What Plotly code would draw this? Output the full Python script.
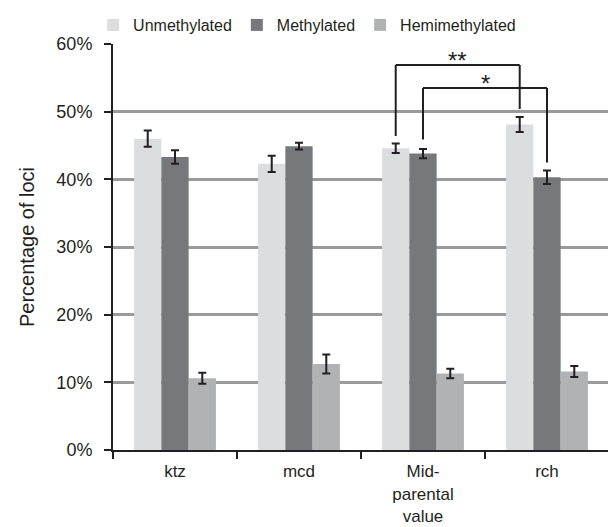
import plotly.graph_objects as go

categories = ["ktz", "mcd", "Mid-<br>parental<br>value", "rch"]
series_names = ["Unmethylated", "Methylated", "Hemimethylated"]
unmethylated = [46.0, 42.3, 44.6, 48.1]
unmethylated_err = [1.2, 1.2, 0.7, 1.1]
methylated = [43.3, 44.9, 43.8, 40.3]
methylated_err = [1.0, 0.5, 0.7, 1.0]
hemimethylated = [10.6, 12.7, 11.3, 11.6]
hemimethylated_err = [0.8, 1.4, 0.7, 0.8]
colors = ["#dcdddf", "#77787b", "#b1b2b4"]
y_ticks = [0, 10, 20, 30, 40, 50, 60]
y_ticktext = ["0%", "10%", "20%", "30%", "40%", "50%", "60%"]

# significance brackets: (x_left, x_right, y_top, y_left_bottom, y_right_bottom, label)
bar_w = (1 - 0.34) / 3
brackets = [
    (2 - bar_w, 3 - bar_w, 56.9, 46.4, 50.4, "**"),
    (2.0, 3.0, 53.5, 45.9, 42.5, "*"),
]

fig = go.Figure()
for name, vals, errs, col in zip(series_names,
                                 [unmethylated, methylated, hemimethylated],
                                 [unmethylated_err, methylated_err, hemimethylated_err],
                                 colors):
    fig.add_trace(go.Bar(
        x=list(range(len(categories))), y=vals, name=name, marker_color=col,
        marker_line_width=0,
        error_y=dict(type="data", array=errs, color="#231f20", thickness=2, width=4),
    ))

for xl, xr, yt, ylb, yrb, lab in brackets:
    fig.add_shape(type="line", x0=xl, x1=xl, y0=ylb, y1=yt, xref="x", yref="y",
                  line=dict(color="#231f20", width=2))
    fig.add_shape(type="line", x0=xl, x1=xr, y0=yt, y1=yt, xref="x", yref="y",
                  line=dict(color="#231f20", width=2))
    fig.add_shape(type="line", x0=xr, x1=xr, y0=yt, y1=yrb, xref="x", yref="y",
                  line=dict(color="#231f20", width=2))
    fig.add_annotation(x=(xl + xr) / 2, y=yt, text=lab, showarrow=False,
                       yanchor="bottom", yshift=-11,
                       font=dict(size=24, color="#231f20"))

fig.update_layout(
    width=608, height=519,
    margin=dict(l=105, r=7, t=36, b=77, autoexpand=False),
    paper_bgcolor="white", plot_bgcolor="white",
    barmode="group", bargap=0.34, bargroupgap=0,
    font=dict(family="Liberation Sans, Arial, sans-serif", size=18, color="#231f20"),
    legend=dict(orientation="h", xref="container", x=0.14, xanchor="left",
                yref="container", y=1.0, yanchor="top",
                font=dict(size=16), itemwidth=30, traceorder="normal"),
    xaxis=dict(
        tickmode="array", tickvals=list(range(len(categories))), ticktext=categories,
        range=[-0.5, 3.5], showline=True, linecolor="#231f20", linewidth=2,
        ticks="", showgrid=False, zeroline=False, tickfont=dict(size=17),
        automargin=False, ticklabelstandoff=5,
        minor=dict(tickvals=[-0.5, 0.5, 1.5, 2.5], ticks="outside",
                   ticklen=7, tickwidth=2, tickcolor="#231f20"),
    ),
    yaxis=dict(
        range=[0, 60], tickmode="array", tickvals=y_ticks, ticktext=y_ticktext,
        showline=True, linecolor="#231f20", linewidth=2,
        ticks="outside", ticklen=7, tickwidth=2, tickcolor="#231f20",
        showgrid=True, gridcolor="#9a9a9a", gridwidth=2.5, zeroline=False,
        automargin=False, ticklabelstandoff=8,
        title=dict(text="Percentage of loci", font=dict(size=20), standoff=16),
        tickfont=dict(size=18),
    ),
)

fig.write_html("out.html")
